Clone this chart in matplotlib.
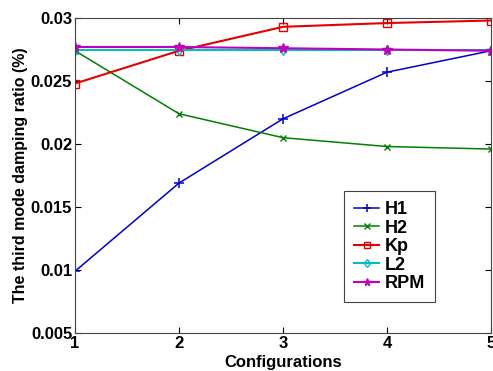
import numpy as np
import matplotlib
matplotlib.use('Agg')
import matplotlib.pyplot as plt

plt.rcParams['font.family'] = ['Liberation Sans', 'DejaVu Sans']
plt.rcParams['font.weight'] = 'bold'

configs = [1, 2, 3, 4, 5]
h1 = [0.0099, 0.0169, 0.0220, 0.0257, 0.0274]
h2 = [0.0274, 0.0224, 0.0205, 0.0198, 0.0196]
kp = [0.0248, 0.0274, 0.0293, 0.0296, 0.0298]
l2 = [0.0275, 0.0275, 0.0275, 0.0275, 0.0275]
rpm = [0.0277, 0.0277, 0.0276, 0.0275, 0.0274]

fig = plt.figure(figsize=(4.93, 3.71), dpi=100)
ax = fig.add_axes([75 / 493, 1 - 333 / 371, (491 - 75) / 493, (333 - 18) / 371])

ax.plot(configs, h1, color=(0.0, 0.0, 0.8), marker='+', ms=6.5, mew=1.1, lw=1.1, label='H1')
ax.plot(configs, h2, color=(0.0, 0.5, 0.0), marker='x', ms=5, mew=1.0, lw=1.1, label='H2')
ax.plot(configs, kp, color=(0.9, 0.0, 0.0), marker='s', ms=5.5, mfc='none', mew=1.0, lw=1.5, label='Kp')
ax.plot(configs, l2, color=(0.0, 0.75, 0.75), marker='d', ms=5.5, mfc='none', mew=1.0, lw=1.5, label='L2')
ax.plot(configs, rpm, color=(0.75, 0.0, 0.75), marker='*', ms=7, lw=1.5, label='RPM')

ax.set_xlim(1, 5)
ax.set_ylim(0.005, 0.03)
ax.set_xticks(configs)
ax.set_yticks([0.005, 0.01, 0.015, 0.02, 0.025, 0.03])
ax.set_yticklabels(['0.005', '0.01', '0.015', '0.02', '0.025', '0.03'])
ax.tick_params(direction='in', top=True, right=True, labelsize=12, length=4, pad=2)
for lab in ax.get_xticklabels() + ax.get_yticklabels():
    lab.set_fontweight('bold')
for s in ax.spines.values():
    s.set_color('#444444')
    s.set_linewidth(0.8)

ax.set_xlabel('Configurations', fontsize=12, fontweight='bold', labelpad=3)
ax.set_ylabel('The third mode damping ratio (%)', fontsize=11.5, fontweight='bold', labelpad=2)

leg = ax.legend(loc='lower left', bbox_to_anchor=((344 - 75) / 416, (333 - 302) / 315),
                fontsize=13, fancybox=False, edgecolor='#444444', framealpha=1,
                handlelength=1.4, handletextpad=0.3, labelspacing=0.08, borderpad=0.55,
                borderaxespad=0, markerscale=0.8)
leg.get_frame().set_linewidth(0.8)
for t in leg.get_texts():
    t.set_fontweight('bold')

fig.savefig('out.png', dpi=100)
